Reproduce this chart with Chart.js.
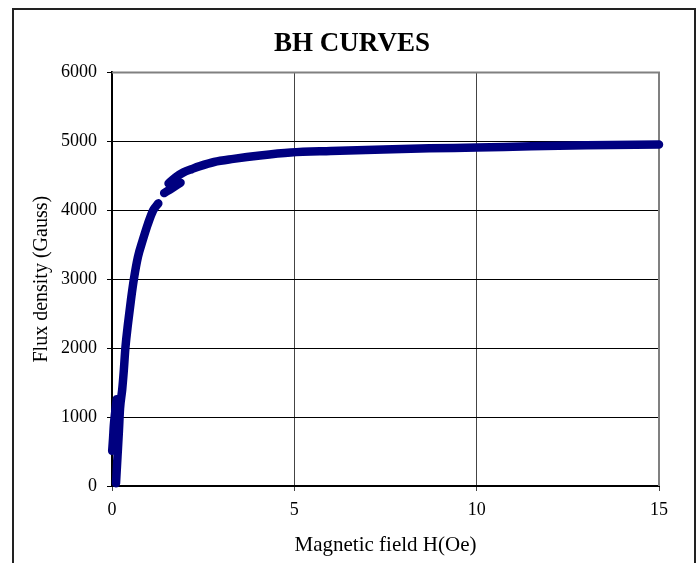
<!DOCTYPE html>
<html>
<head>
<meta charset="utf-8">
<script src="https://cdn.jsdelivr.net/npm/chart.js@4/dist/chart.umd.min.js"></script>
<style>
  body { margin: 0; background: #fff; }
  #wrap { position: relative; width: 699px; height: 563px; overflow: hidden; }
  #frame {
    position: absolute; left: 12px; top: 8px; width: 680px; height: 600px;
    border: 2px solid #222; pointer-events: none;
  }
</style>
</head>
<body>
<div id="wrap">
  <canvas id="bhChart" width="699" height="563"></canvas>
  <div id="frame"></div>
</div>
<script>
// Curva B-H: campo H (Oe) contra densidad de flujo B (Gauss)
// tramo inicial cerca de H = 0
const hInicial = [0.005, 0.03, 0.05, 0.09, 0.13];
const bInicial = [510, 700, 880, 1080, 1260];

// subida principal
const hSubida = [0.11, 0.15, 0.19, 0.22, 0.28, 0.32, 0.37, 0.44, 0.52, 0.60, 0.71, 0.84, 0.99, 1.13, 1.27];
const bSubida = [40, 420, 800, 1120, 1400, 1650, 2020, 2360, 2700, 3000, 3320, 3560, 3810, 4000, 4100];

// pequeño escalón en la rodilla
const hEscalon = [1.43, 1.65, 1.88];
const bEscalon = [4250, 4320, 4400];

// saturación
const hSaturacion = [1.55, 1.75, 1.96, 2.2, 2.41, 2.8, 3.33, 4.06, 4.9, 6.0, 7.44, 8.7, 10.0, 11.5, 13.0, 15.0];
const bSaturacion = [4390, 4480, 4550, 4600, 4640, 4700, 4745, 4795, 4838, 4860, 4882, 4898, 4910, 4928, 4942, 4954];

const ticksH = [0, 5, 10, 15];
const ticksB = [0, 1000, 2000, 3000, 4000, 5000, 6000];

const azul = "#000080";
const fuente = "'Liberation Serif', 'Times New Roman', serif";

function puntos(hs, bs) {
  return hs.map((h, i) => ({ x: h, y: bs[i] }));
}

function tramo(hs, bs) {
  return {
    data: puntos(hs, bs),
    showLine: true,
    borderColor: azul,
    backgroundColor: azul,
    borderWidth: 8.5,
    borderCapStyle: "round",
    borderJoinStyle: "round",
    cubicInterpolationMode: "monotone",
    pointRadius: 0,
    clip: 10
  };
}

// borde gris del área de trazado (arriba y derecha)
const bordeArea = {
  id: "bordeArea",
  beforeDatasetsDraw(chart) {
    const { ctx, chartArea } = chart;
    ctx.save();
    ctx.strokeStyle = "#808080";
    ctx.lineWidth = 2;
    ctx.beginPath();
    ctx.moveTo(chartArea.left, chartArea.top);
    ctx.lineTo(chartArea.right, chartArea.top);
    ctx.lineTo(chartArea.right, chartArea.bottom);
    ctx.stroke();
    ctx.restore();
  }
};

new Chart(document.getElementById("bhChart"), {
  type: "scatter",
  data: {
    datasets: [
      tramo(hInicial, bInicial),
      tramo(hSubida, bSubida),
      tramo(hEscalon, bEscalon),
      tramo(hSaturacion, bSaturacion)
    ]
  },
  options: {
    responsive: false,
    animation: false,
    layout: { padding: { left: 5, right: 0, top: 0, bottom: 0 } },
    plugins: {
      legend: { display: false },
      tooltip: { enabled: false },
      title: {
        display: true,
        text: "BH CURVES",
        color: "#000",
        font: { family: fuente, size: 27, weight: "bold" },
        padding: { top: 28, bottom: 12 }
      }
    },
    scales: {
      x: {
        type: "linear",
        min: 0,
        max: 15,
        afterBuildTicks: (s) => { s.ticks = ticksH.map((v) => ({ value: v })); },
        afterFit: (s) => { s.height = 77; },
        ticks: {
          color: "#000",
          padding: 8,
          font: { family: fuente, size: 18 },
          callback: (v) => String(v)
        },
        grid: { color: "#444", lineWidth: 1, tickLength: 5 },
        border: { color: "#000", width: 2 },
        title: {
          display: true,
          text: "Magnetic field H(Oe)",
          color: "#000",
          font: { family: fuente, size: 21 },
          padding: { top: 4, bottom: 5 }
        }
      },
      y: {
        type: "linear",
        min: 0,
        max: 6000,
        afterBuildTicks: (s) => { s.ticks = ticksB.map((v) => ({ value: v })); },
        afterFit: (s) => { s.width = 107; },
        ticks: {
          color: "#000",
          padding: 10,
          font: { family: fuente, size: 18 },
          callback: (v) => String(v)
        },
        grid: { color: "#000", lineWidth: 1, tickLength: 5 },
        border: { color: "#000", width: 2 },
        title: {
          display: true,
          text: "Flux density (Gauss)",
          color: "#000",
          font: { family: fuente, size: 20 },
          padding: { top: 25, bottom: 0 }
        }
      },
      // margen derecho entre el área de trazado y el marco
      margen: {
        type: "linear",
        position: "right",
        display: true,
        afterFit: (s) => { s.width = 40; },
        ticks: { display: false },
        grid: { display: false, drawOnChartArea: false },
        border: { display: false }
      }
    }
  },
  plugins: [bordeArea]
});
</script>
</body>
</html>
